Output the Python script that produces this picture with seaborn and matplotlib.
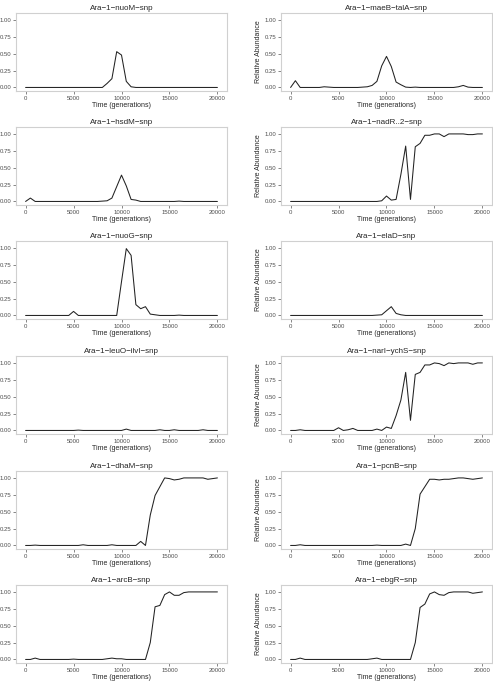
import numpy as np
import pandas as pd
import matplotlib
matplotlib.use("Agg")
import matplotlib.pyplot as plt
import seaborn as sns

# time points: every 500 generations
time = list(range(0, 20001, 500))

titles = ["Ara-1-nuoM-snp", "Ara-1-maeB-talA-snp",
          "Ara-1-hsdM-snp", "Ara-1-nadR..2-snp",
          "Ara-1-nuoG-snp", "Ara-1-elaD-snp",
          "Ara-1-leuO-ilvI-snp", "Ara-1-narI-ychS-snp",
          "Ara-1-dhaM-snp", "Ara-1-pcnB-snp",
          "Ara-1-arcB-snp", "Ara-1-ebgR-snp"]

nuoM = [0]*16 + [0.0, 0.06, 0.13, 0.53, 0.48, 0.09, 0.01] + [0]*18
maeB_talA = [0.0, 0.10, 0.0, 0.0, 0.0, 0.0, 0.0, 0.01, 0.005, 0.0,
             0.0, 0.0, 0.0, 0.0, 0.0, 0.005, 0.01, 0.03, 0.09, 0.32,
             0.46, 0.31, 0.08, 0.04, 0.005, 0.0, 0.005, 0.0, 0.0, 0.0,
             0.0, 0.0, 0.0, 0.0, 0.0, 0.01, 0.03, 0.005, 0.0, 0.0, 0.0]
hsdM = [0.0, 0.05, 0.0, 0.0, 0.0, 0.0, 0.0, 0.0, 0.0, 0.0,
        0.0, 0.0, 0.0, 0.0, 0.0, 0.0, 0.005, 0.01, 0.05, 0.22,
        0.39, 0.23, 0.03, 0.02, 0.0, 0.0, 0.0, 0.0, 0.0, 0.0,
        0.0, 0.0, 0.005, 0.0, 0.0, 0.0, 0.0, 0.0, 0.0, 0.0, 0.0]
nadR_2 = [0.0, 0.0, 0.0, 0.0, 0.0, 0.0, 0.0, 0.0, 0.0, 0.0,
          0.0, 0.0, 0.0, 0.0, 0.0, 0.0, 0.0, 0.0, 0.0, 0.01,
          0.08, 0.02, 0.03, 0.40, 0.82, 0.03, 0.81, 0.86, 0.98, 0.98,
          1.0, 1.0, 0.96, 1.0, 1.0, 1.0, 1.0, 0.99, 0.99, 1.0, 1.0]
nuoG = [0.0, 0.0, 0.0, 0.0, 0.0, 0.0, 0.0, 0.0, 0.0, 0.0,
        0.06, 0.0, 0.0, 0.0, 0.0, 0.0, 0.0, 0.0, 0.0, 0.0,
        0.50, 0.99, 0.89, 0.16, 0.10, 0.13, 0.02, 0.01, 0.0, 0.0,
        0.0, 0.0, 0.005, 0.0, 0.0, 0.0, 0.0, 0.0, 0.0, 0.0, 0.0]
elaD = [0.0, 0.0, 0.0, 0.0, 0.0, 0.0, 0.0, 0.0, 0.0, 0.0,
        0.0, 0.0, 0.0, 0.0, 0.0, 0.0, 0.0, 0.0, 0.005, 0.01,
        0.07, 0.13, 0.03, 0.01, 0.0, 0.0, 0.0, 0.0, 0.0, 0.0,
        0.0, 0.0, 0.0, 0.0, 0.0, 0.0, 0.0, 0.0, 0.0, 0.0, 0.0]
leuO_ilvI = [0.0, 0.0, 0.0, 0.0, 0.0, 0.0, 0.0, 0.0, 0.0, 0.0,
             0.0, 0.005, 0.0, 0.0, 0.0, 0.0, 0.0, 0.0, 0.0, 0.0,
             0.0, 0.02, 0.0, 0.0, 0.0, 0.0, 0.0, 0.0, 0.01, 0.0,
             0.0, 0.01, 0.0, 0.0, 0.0, 0.0, 0.0, 0.01, 0.0, 0.0, 0.0]
narI_ychS = [0.0, 0.0, 0.01, 0.0, 0.0, 0.0, 0.0, 0.0, 0.0, 0.0,
             0.04, 0.0, 0.01, 0.03, 0.0, 0.0, 0.0, 0.0, 0.02, 0.0,
             0.05, 0.03, 0.22, 0.45, 0.86, 0.15, 0.83, 0.86, 0.97, 0.97,
             1.0, 0.99, 0.96, 1.0, 0.99, 1.0, 1.0, 1.0, 0.98, 1.0, 1.0]
dhaM = [0.0, 0.0, 0.005, 0.0, 0.0, 0.0, 0.0, 0.0, 0.0, 0.0,
        0.0, 0.0, 0.01, 0.0, 0.0, 0.0, 0.0, 0.0, 0.01, 0.0,
        0.0, 0.0, 0.0, 0.0, 0.06, 0.0, 0.45, 0.74, 0.87, 1.0,
        0.99, 0.97, 0.98, 1.0, 1.0, 1.0, 1.0, 1.0, 0.98, 0.99, 1.0]
pcnB = [0.0, 0.0, 0.01, 0.0, 0.0, 0.0, 0.0, 0.0, 0.0, 0.0,
        0.0, 0.0, 0.0, 0.0, 0.0, 0.0, 0.0, 0.0, 0.005, 0.0,
        0.0, 0.0, 0.0, 0.0, 0.02, 0.0, 0.25, 0.76, 0.87, 0.98,
        0.98, 0.97, 0.98, 0.98, 0.99, 1.0, 1.0, 0.99, 0.98, 0.99, 1.0]
arcB = [0.0, 0.0, 0.02, 0.0, 0.0, 0.0, 0.0, 0.0, 0.0, 0.0,
        0.005, 0.0, 0.0, 0.0, 0.0, 0.0, 0.0, 0.01, 0.02, 0.01,
        0.01, 0.0, 0.0, 0.0, 0.0, 0.0, 0.25, 0.78, 0.80, 0.96,
        1.0, 0.95, 0.95, 0.99, 1.0, 1.0, 1.0, 1.0, 1.0, 1.0, 1.0]
ebgR = [0.0, 0.0, 0.02, 0.0, 0.0, 0.0, 0.0, 0.0, 0.0, 0.0,
        0.0, 0.0, 0.0, 0.0, 0.0, 0.0, 0.0, 0.01, 0.02, 0.0,
        0.0, 0.0, 0.0, 0.0, 0.0, 0.0, 0.25, 0.77, 0.82, 0.97,
        1.0, 0.96, 0.95, 0.99, 1.0, 1.0, 1.0, 1.0, 0.98, 0.99, 1.0]

series = [nuoM, maeB_talA, hsdM, nadR_2, nuoG, elaD,
          leuO_ilvI, narI_ychS, dhaM, pcnB, arcB, ebgR]

sns.set_theme(style="white")
plt.rcParams['font.family'] = ['Liberation Sans', 'DejaVu Sans']

W, H = 493, 682
fig = plt.figure(figsize=(W/100, H/100), dpi=100)

col_left = [16, 281]
ax_w = 211
row_top = [13, 127, 241, 356, 471, 585]
ax_h = 78

for i, (title, vals) in enumerate(zip(titles, series)):
    r, c = divmod(i, 2)
    x0 = col_left[c]
    y0 = row_top[r]
    ax = fig.add_axes([x0/W, 1 - (y0 + ax_h)/H, ax_w/W, ax_h/H])
    df = pd.DataFrame({"time": time, "abund": vals})
    sns.lineplot(data=df, x="time", y="abund", ax=ax, color="#222222", lw=0.75)
    ax.set_xlim(-1000, 21000)
    ax.set_ylim(-0.0525, 1.1025)
    ax.set_xticks([0, 5000, 10000, 15000, 20000])
    ax.set_xticklabels(["0", "5000", "10000", "15000", "20000"])
    ax.set_yticks([0, 0.25, 0.5, 0.75, 1.0])
    ax.set_yticklabels(["0.00", "0.25", "0.50", "0.75", "1.00"])
    ax.tick_params(axis="both", which="major", labelsize=4.3, length=2,
                   width=0.5, pad=1.5, color="#555555", labelcolor="#4D4D4D",
                   bottom=True, left=True)
    for sp in ax.spines.values():
        sp.set_color("#D0D0D0")
        sp.set_linewidth(0.8)
    ax.set_title(title.replace("-", "\u2212"), fontsize=5.8, pad=2.5)
    ax.set_xlabel("Time (generations)", fontsize=5.0, labelpad=1)
    ax.set_ylabel("Relative Abundance", fontsize=5.0, labelpad=2)
    ax.grid(False)

fig.savefig("out.png", dpi=100)
